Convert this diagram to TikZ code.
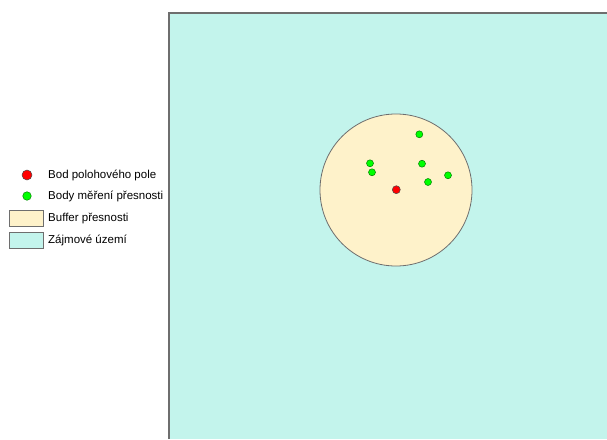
\documentclass[tikz,border=0pt]{standalone}
\usepackage{fontspec}
\setmainfont{Liberation Sans}
\usepackage{xcolor}
\definecolor{areafill}{RGB}{195,244,236}
\definecolor{bufferfill}{RGB}{254,242,202}
\definecolor{edgegray}{RGB}{110,110,110}
\usetikzlibrary{positioning}

\begin{document}
\begin{tikzpicture}[
	x=1pt, y=-1pt,
	buffer/.style={circle, draw=edgegray, line width=0.8pt, fill=bufferfill, inner sep=0pt},
	polepoint/.style={circle, draw=black!70, line width=0.5pt, fill=red, inner sep=0pt, minimum size=8pt},
	testpoint/.style={circle, draw=black!50!green, line width=0.5pt, fill=green, inner sep=0pt, minimum size=7pt},
	swatch/.style={rectangle, draw=edgegray, line width=0.8pt, inner sep=0pt, minimum width=34pt, minimum height=16pt},
	legtext/.style={font=\fontsize{11.5}{13}\selectfont, anchor=west, inner sep=0pt}
	]
	\useasboundingbox (0,0) rectangle (607,439);
	
	% --- Area of interest ---
	\fill[areafill] (169,13) rectangle (607,439);
	\draw[edgegray, line width=1.5pt] (169,439) |- (607,13);
	
	% --- Buffer and points ---
	\node[buffer, minimum size=152pt] (buf) at (396,190) {};
	\node[testpoint] (t1) at (419.3,134.3) {};
	\node[testpoint] (t2) at (370,163.3) {};
	\node[testpoint] (t3) at (372,172.3) {};
	\node[testpoint] (t4) at (422,163.7) {};
	\node[testpoint] (t5) at (448,175.3) {};
	\node[testpoint] (t6) at (428,182) {};
	\node[polepoint] (pole) at (396.3,189.7) {};
	
	% --- Legend ---
	\node[polepoint, minimum size=10pt] (lpole) at (27,175) {};
	\node[testpoint, minimum size=8.5pt] (ltest) at (27,196) {};
	\node[swatch, fill=bufferfill] (lbuf) at (26,218.5) {};
	\node[swatch, fill=areafill] (larea) at (26,240) {};
	\node[legtext] (tpole) at (48,175) {Bod polohového pole};
	\node[legtext] (ttest) at (48,196) {Body měření přesnosti};
	\node[legtext] (tbuf) at (48,218.5) {Buffer přesnosti};
	\node[legtext] (tarea) at (48,240) {Zájmové území};
\end{tikzpicture}
\end{document}
